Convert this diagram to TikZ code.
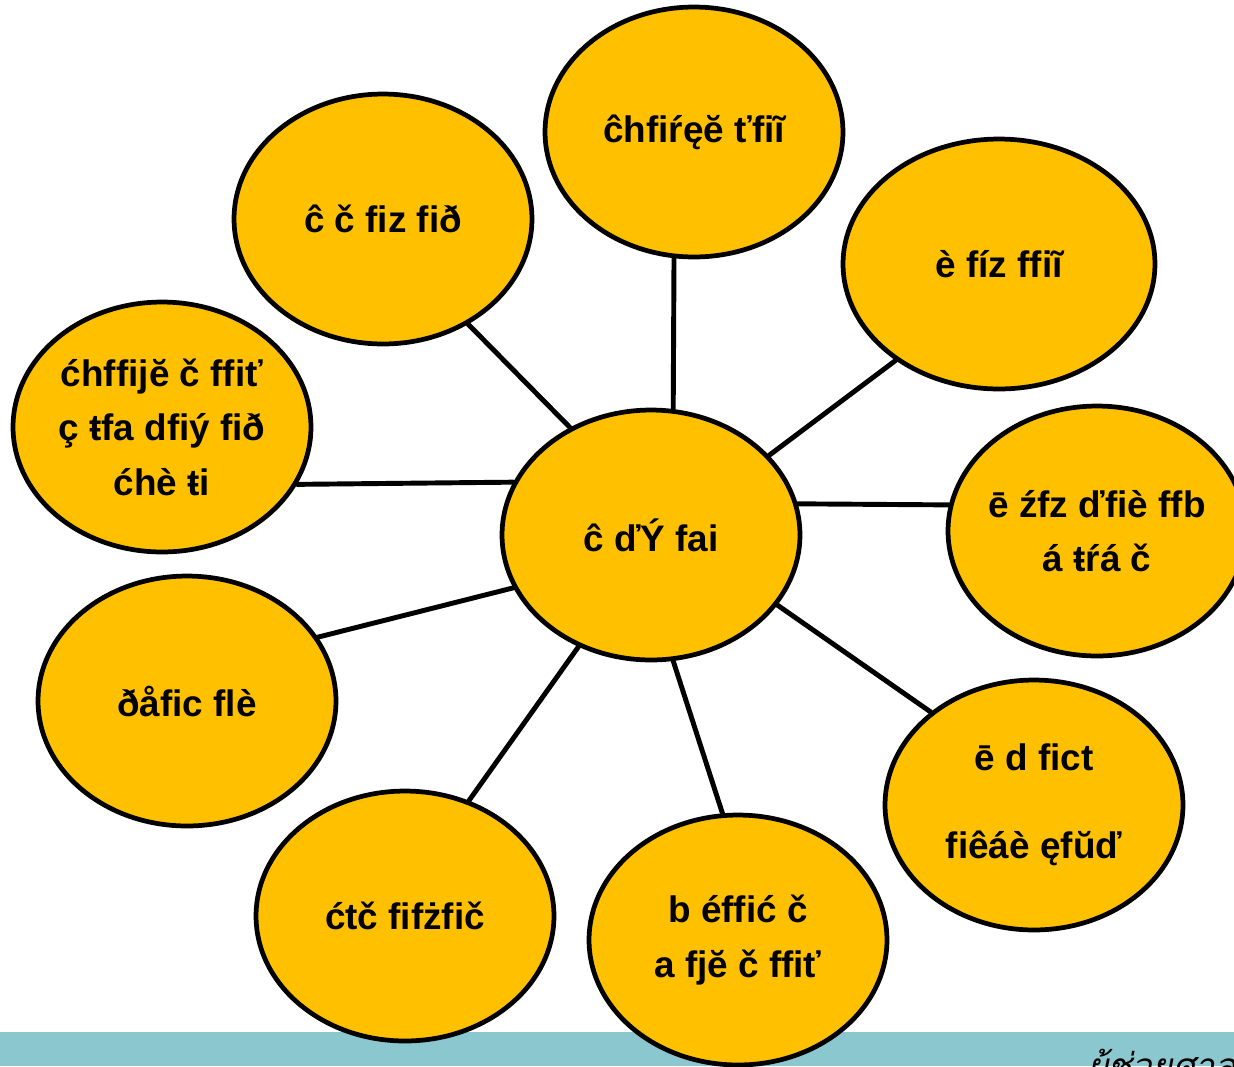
\documentclass[tikz,border=0pt]{standalone}
\usepackage{fontspec}
\setmainfont{Liberation Sans}
\newfontfamily\thaifont[Script=Thai,FakeSlant=0.2]{Loma}
\usetikzlibrary{shapes.geometric}
\definecolor{gold}{RGB}{255,192,0}
\definecolor{stripteal}{RGB}{139,199,206}

\begin{document}
\begin{tikzpicture}[x=0.02cm,y=-0.02cm,line join=round,line cap=round]
	\tikzset{bubble/.style={ellipse,draw=black,line width=2.7pt,fill=gold,minimum width=5.96cm,minimum height=5cm,inner sep=0pt,align=center,font=\bfseries\fontsize{21}{31}\selectfont},
		link/.style={line width=2.8pt}}
	\useasboundingbox (0,0) rectangle (1234,1066);
	% bottom strip
	\fill[stripteal] (0,1032) rectangle (1234,1066);
	\node[anchor=base west,inner sep=0pt,font=\thaifont\fontsize{20}{24}\selectfont] (credit) at (1088,1078) {ผู้ช่วยศาสตราจารย์};
	% bubbles
	\node[bubble] (hub) at (651,535) {ĉ ďÝ fai};
	\node[bubble] (top) at (694,132) {ĉhfiŕęĕ ťfiĩ};
	\node[bubble] (topleft) at (383,219) {ĉ č fiz fið};
	\node[bubble,minimum width=6.24cm] (topright) at (999,264) {è fíz ffiĩ};
	\node[bubble] (leftup) at (162,427) {ćhffijĕ č ffiť\\ ç ŧfa dfiý fið\\ ćhè ŧi};
	\node[bubble,inner sep=-6pt] (right) at (1097,531) {ē źfz ďfiè ffb\\ á ŧŕá č};
	\node[bubble] (leftlow) at (187,701) {ðåfic flè};
	\node[bubble] (botright) at (1034,805) {ē d fict\\[19pt] fiêáè ęfŭď};
	\node[bubble] (botleft) at (405,916) {ćtč fifżfič};
	\node[bubble] (bottom) at (738,940) {b éffić č\\ a fjĕ č ffiť};
	% connectors
	\draw[link] (hub.80.2) -- (top.261.2);
	\draw[link] (hub.127) -- (topleft.309.3);
	\draw[link] (hub.34.8) -- (topright.223);
	\draw[link] (hub.159.6) -- (leftup.337.3);
	\draw[link] (hub.12.4) -- (right.170.3);
	\draw[link] (hub.201.4) -- (leftlow.26.2);
	\draw[link] (hub.331) -- (botright.138.6);
	\draw[link] (hub.237.6) -- (botleft.61.6);
	\draw[link] (hub.280.4) -- (bottom.97.4);
\end{tikzpicture}
\end{document}
